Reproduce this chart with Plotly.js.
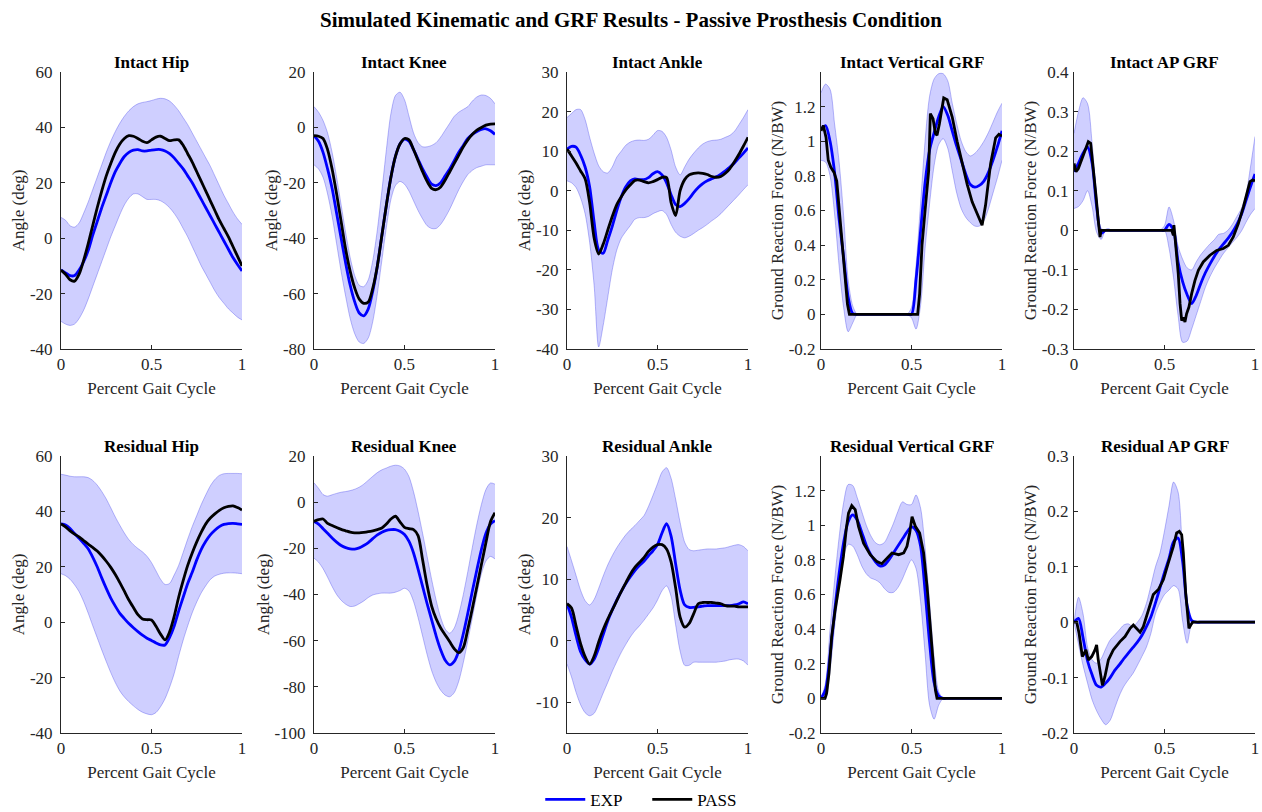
<!DOCTYPE html>
<html><head><meta charset="utf-8">
<script src="https://cdn.plot.ly/plotly-3.0.1.min.js"></script>
<style>html,body{margin:0;padding:0;background:#fff}#chart{width:1262px;height:812px}</style>
</head><body><div id="chart"></div>
<script>
// ---------- shared x grid (fraction of gait cycle) ----------
const pct = [0,0.025,0.05,0.075,0.1,0.125,0.15,0.175,0.2,0.225,0.25,0.275,0.3,0.325,0.35,0.375,0.4,0.425,0.45,0.475,0.5,0.525,0.55,0.575,0.6,0.625,0.65,0.675,0.7,0.725,0.75,0.775,0.8,0.825,0.85,0.875,0.9,0.925,0.95,0.975,1];

// ---------- tick values ----------
const xTicks = [0,0.5,1];
const ticksHip = [-40,-20,0,20,40,60];
const ticksIntKnee = [-80,-60,-40,-20,0,20];
const ticksIntAnk = [-40,-30,-20,-10,0,10,20,30];
const ticksVgrf = [-0.2,0,0.2,0.4,0.6,0.8,1,1.2];
const ticksIntAp = [-0.3,-0.2,-0.1,0,0.1,0.2,0.3,0.4];
const ticksResKnee = [-100,-80,-60,-40,-20,0,20];
const ticksResAnk = [-10,0,10,20,30];
const ticksResAp = [-0.2,-0.1,0,0.1,0.2,0.3];

// ---------- Intact Hip ----------
const intHipExp = [-11.5,-12.5,-13.5,-13.5,-11.5,-8.5,-4.5,1,6,11,15.5,20,24,27,29.5,31,31.8,32,31.5,31.5,31.8,32,32,31.5,30.5,29,27,25,22.5,20,17,14,11,8,5,2,-1,-4,-7,-9.5,-11.8];
const intHipPass = [-11.5,-13,-15,-15.5,-13,-8,-2,4.5,11,17,22.5,27,31,34,36,37,36.8,36,35,34.5,35.5,36.5,36.8,36,35.2,35.5,35.5,33.5,30.5,27.5,24,20.5,17,13.5,10,6.5,3.5,0.5,-3,-6.5,-10];
const intHipUp = [7.5,6.5,4.5,4,5.5,9,13,17.5,22,26.5,31,35,38.5,41.5,44,46,47.5,48.5,49,49.3,49.7,50.2,50.5,50.3,49.5,48,46,43.5,41,38,35,32,29,26,22.5,19,15.5,12.5,9.5,7,5];
const intHipLo = [-30,-31,-31.5,-31,-29,-26,-22,-17.5,-13,-8.5,-4,0.5,4.5,8.5,12,14.5,16,16,15,14,14,14,13.5,12.5,11,9,6.5,3.5,0.5,-3,-6.5,-10,-13,-16,-19,-21.5,-23.5,-25.5,-27,-28.5,-29.5];

// ---------- Intact Knee ----------
const intKneeExp = [-3,-5,-9,-15,-22,-31,-40,-49,-57,-63,-67,-68,-65.5,-59,-50,-39,-28,-18,-10.5,-6,-4.2,-5,-8,-11.5,-15,-18,-20.5,-21,-20,-17.5,-15,-12,-9,-6.5,-4,-2.5,-1.5,-0.7,-0.5,-1.2,-2.5];
const intKneePass = [-3,-3.2,-4,-8,-15,-24,-34,-44,-52,-58,-62,-63.5,-63,-58,-50,-39,-28,-18,-10.5,-6,-4,-4.5,-8,-12,-16,-19.5,-22,-22.5,-21.5,-19,-16,-13,-10,-7,-4.5,-2.5,-1,0,0.8,1.2,1.3];
const intKneeUp = [7.5,5.5,2.5,-2,-9,-18,-28,-38,-47,-53.5,-57,-57.5,-55,-48,-37,-23,-8,5,11.5,12.7,10,4,-2,-5.5,-7,-7,-6.5,-5.5,-3.5,-1,1.5,4,5.5,6.5,7.5,9.5,11,11.7,11.5,10.5,8.5];
const intKneeLo = [-13.5,-15,-18,-24,-32,-42,-52,-61,-69,-74.5,-77.5,-78,-76,-70,-60,-48,-36,-26,-21,-19.5,-20.5,-23,-26.5,-30,-33,-35.5,-36.5,-36.5,-35,-32.5,-29.5,-26,-22.5,-19.5,-17,-15.5,-14.5,-14,-13.5,-13.5,-13.5];

// ---------- Intact Ankle ----------
const intAnkExp = [10.5,11.2,11,9,6,1,-8,-15,-15.8,-12.5,-9,-5,-1.5,1,2.5,3,2.8,2.8,3.3,4.3,4.8,4,2,-1,-3.5,-4,-3.2,-2,-0.5,0.8,1.8,2.5,3,3.5,4.2,5,6,7,8.3,9.5,10.8];
const intAnkPass = [10.5,8.8,7,5,3,-3,-12,-16,-13.5,-10,-6.5,-3.5,-1.5,0.2,1.5,2.6,2.7,2.3,2,2.3,2.8,3.4,3.3,-3,-6.3,0,2.8,4,4.4,4.5,4.4,4.1,3.6,3.4,3.6,4.4,5.6,7.3,9.2,11.3,13.5];
const intAnkUp = [18.5,19.5,20.5,20.5,18,13.5,9.5,6.3,4.8,4.5,6,8.5,10,11.5,12.3,12.7,12.8,12.7,13,14,15.2,15,13.5,10.3,6,4,6,8,9.5,10.8,11.8,12.4,12.7,12.8,13,13.5,14,15,16.7,18.5,20.5];
const intAnkLo = [2.5,2,0.8,-1.8,-5.8,-13,-24,-39.5,-34,-27,-20,-15,-12,-10.3,-8.8,-7.2,-6.8,-6.8,-6.5,-5.8,-5.3,-5,-6,-8.5,-10.5,-11.5,-11.9,-11.5,-10.8,-10,-9.3,-8.5,-7.6,-6.8,-5.8,-4.6,-3.4,-2.2,-1,0.3,1.5];

// ---------- Intact Vertical GRF ----------
const intVgrfExp = [1.07,1.09,1.0,0.82,0.55,0.33,0.1,0.005,0,0,0,0,0,0,0,0,0,0,0,0,0,0.2,0.48,0.76,0.95,1.05,1.14,1.2,1.15,1.06,0.97,0.89,0.81,0.75,0.735,0.745,0.77,0.82,0.89,0.97,1.06];
const intVgrfUp = [1.28,1.33,1.3,1.1,0.88,0.57,0.2,0.05,0,0,0,0,0,0,0,0,0,0,0,0,0.04,0.28,0.64,1.0,1.26,1.36,1.39,1.39,1.35,1.22,1.1,1.0,0.94,0.915,0.93,0.96,1.0,1.05,1.11,1.17,1.22];
const intVgrfLo = [0.89,0.88,0.8,0.58,0.28,0.04,-0.1,-0.05,0,0,0,0,0,0,0,0,0,0,0,0,-0.02,-0.085,0.05,0.38,0.64,0.86,0.98,1.015,0.96,0.83,0.7,0.61,0.56,0.53,0.51,0.51,0.54,0.61,0.7,0.79,0.89];
const intVgrfPassX = [0,0.013,0.028,0.04,0.054,0.072,0.087,0.105,0.128,0.146,0.157,0.534,0.545,0.558,0.575,0.595,0.604,0.619,0.632,0.641,0.654,0.669,0.678,0.697,0.725,0.752,0.78,0.808,0.835,0.863,0.882,0.89,0.909,0.937,0.965,0.983,1];
const intVgrfPassY = [1.06,1.09,1.02,0.89,0.85,0.82,0.77,0.55,0.28,0.06,0,0,0.12,0.40,0.60,0.83,1.16,1.13,1.045,1.035,1.10,1.19,1.25,1.24,1.14,1.0,0.87,0.75,0.65,0.58,0.525,0.515,0.63,0.87,1.02,1.04,1.03];

// ---------- Intact AP GRF ----------
const intApExp = [0.148,0.17,0.195,0.21,0.17,0.06,-0.008,0,0,0,0,0,0,0,0,0,0,0,0,0,0,0.015,0,-0.08,-0.13,-0.163,-0.185,-0.165,-0.135,-0.108,-0.086,-0.066,-0.049,-0.035,-0.021,-0.005,0.015,0.04,0.075,0.11,0.142];
const intApUp = [0.245,0.30,0.335,0.32,0.22,0.09,0.005,0,0,0,0,0,0,0,0,0,0,0,0,0,0.012,0.059,0.025,-0.04,-0.073,-0.095,-0.1,-0.08,-0.062,-0.048,-0.035,-0.024,-0.01,-0.008,0,0.015,0.035,0.055,0.09,0.16,0.237];
const intApLo = [0.055,0.06,0.075,0.1,0.06,-0.005,-0.023,0,0,0,0,0,0,0,0,0,0,0,0,0,0,-0.045,-0.12,-0.215,-0.283,-0.28,-0.25,-0.215,-0.18,-0.145,-0.118,-0.096,-0.077,-0.059,-0.045,-0.031,-0.018,-0.002,0.02,0.04,0.055];
const intApPassX = [0,0.011,0.024,0.042,0.061,0.079,0.092,0.107,0.122,0.134,0.144,0.149,0.54,0.549,0.552,0.558,0.567,0.576,0.586,0.595,0.604,0.613,0.622,0.635,0.65,0.668,0.687,0.714,0.751,0.788,0.825,0.853,0.88,0.908,0.936,0.958,0.972,0.987,1];
const intApPassY = [0.169,0.148,0.156,0.178,0.203,0.224,0.22,0.16,0.085,0.025,-0.017,0,0,-0.013,0.013,-0.017,-0.059,-0.11,-0.186,-0.228,-0.22,-0.232,-0.211,-0.194,-0.16,-0.127,-0.101,-0.08,-0.063,-0.051,-0.046,-0.038,-0.017,0.017,0.059,0.101,0.123,0.127,0.125];

// ---------- Residual Hip ----------
const resHipExp = [35.5,35.1,33.8,32,30.3,28.5,26.5,23.5,20,16,12.2,8.7,5.8,3.2,1.3,-0.5,-2,-3.4,-4.7,-5.8,-6.6,-7.5,-8.2,-8.2,-5.5,-1.5,4,9,14,18,22.5,26.3,29.2,31.5,33.2,34.5,35.3,35.6,35.7,35.5,35.3];
const resHipPass = [35.5,34.4,33,31.8,30.8,29.5,28.2,27,25.7,24,22,19.8,17.2,14.3,11.2,8,5.3,2.7,1.2,0.9,0.8,-1.5,-4.3,-6.4,-3.5,2,9,15,20.5,25,29,32.5,35.5,37.6,39.1,40.4,41.3,41.8,42,41.4,40.5];
const resHipUp = [53.4,53.1,52.7,52.5,52.5,52.5,52.2,51.2,49.5,47.2,44.5,41.3,38,35,32.2,29.8,28,26.6,25.4,23.8,21.5,18.5,15.5,13.6,14,17,20.5,25.2,30,34.5,38.5,42.5,46,49.2,51.5,53,53.6,53.7,53.7,53.7,53.6];
const resHipLo = [17.5,16.8,15.5,13.5,11,7.5,3.3,-1.2,-5.6,-10,-14.2,-18.2,-21.8,-24.8,-27,-28.7,-30.2,-31.5,-32.5,-33.1,-33.4,-32.6,-30.5,-27.6,-23.5,-18.6,-12.3,-6.5,-1.3,3.4,7.3,10.6,13.2,15.4,16.7,17.3,17.7,17.8,17.8,17.7,17.5];

// ---------- Residual Knee ----------
const resKneeExp = [-8.3,-9.5,-11.5,-13.5,-15.5,-17.3,-18.8,-19.7,-20.2,-20.3,-19.8,-18.8,-17.5,-15.8,-14.2,-13,-12.2,-11.9,-11.9,-12.6,-14,-17,-22,-29,-36.5,-44,-51,-58,-64,-68.5,-70.5,-69,-64.5,-57,-48,-38.5,-29.3,-20.5,-13.5,-9.5,-8];
const resKneePass = [-8.3,-7.6,-7.3,-9.2,-10.1,-11,-11.8,-12.4,-13,-13.3,-13.3,-13.1,-12.8,-12.4,-11.9,-11.2,-9.5,-7.3,-6.1,-8.5,-10.9,-11.5,-11.9,-14.5,-25,-36,-45,-50.5,-54.5,-57.5,-60.5,-63.5,-65.2,-63,-55,-46,-36.5,-27,-17.5,-8.5,-4.6];
const resKneeUp = [8.4,6,3.3,2.6,3.2,3.8,4.3,4.6,5,5.6,6.5,7.8,9.5,11.2,12.8,14,14.8,15.6,16,15.7,14.3,11,4.5,-4,-13.5,-23.5,-33.5,-42.5,-50,-55,-56.8,-54.5,-48.5,-40,-30,-19.5,-9.5,-1,5.5,8.3,7.8];
const resKneeLo = [-24.2,-26,-28.8,-32.5,-36.5,-40,-42.5,-44.2,-45.2,-45,-44,-42.8,-41.3,-40.2,-39.7,-39.4,-39.4,-39.4,-39,-38.3,-37.3,-38.5,-43,-50,-58,-66,-73,-78,-81.5,-83.6,-84.3,-82.5,-77.5,-69.5,-60,-50,-40,-31,-25.5,-23.5,-24.6];

// ---------- Residual Ankle ----------
const resAnkExp = [6,3.8,0.8,-1.8,-3.1,-3.8,-3,-1.2,1,3.2,5,6.6,8,9.3,10.4,11.4,12.2,12.9,13.8,14.6,15.6,17.5,19,17,12.5,8.2,5.8,5.4,5.4,5.5,5.6,5.7,5.7,5.7,5.7,5.7,5.7,5.8,6,6.3,6];
const resAnkPass = [6,5.3,2.4,-0.5,-2.6,-3.8,-2.5,-0.2,1.8,3.5,5,6.5,8,9.4,10.8,11.9,12.7,13.5,14.5,15.2,15.6,15.6,14.9,12.8,8.6,3.8,2.2,2.8,4.4,6,6.2,6.2,6.2,6.1,6,5.7,5.6,5.6,5.5,5.5,5.5];
const resAnkUp = [15.3,13,10.6,8.2,6.5,5.8,6.7,8.5,10.5,12.3,13.8,15.1,16.2,17.2,18,18.7,19.5,20.3,21.8,23.6,25.5,27.4,28.1,26.4,23,19.2,16,14.8,14.6,14.7,14.8,14.9,14.9,14.9,15,15.1,15.3,15.5,15.6,15.3,14.6];
const resAnkLo = [-3.8,-5.9,-8.4,-10.4,-11.7,-12.2,-11.8,-10.3,-8.5,-6.8,-5,-3.4,-1.9,-0.6,0.6,1.6,2.4,3.3,4.3,5.3,6.6,8.1,8.9,7.2,2.6,-1.7,-4,-4,-3.5,-3.5,-3.5,-3.5,-3.5,-3.5,-3.4,-3.3,-3.1,-3,-3,-3.3,-4];

// ---------- Residual Vertical GRF ----------
const resVgrfExp = [0,0.05,0.25,0.5,0.72,0.9,1.02,1.06,1.03,0.96,0.885,0.83,0.79,0.765,0.77,0.8,0.84,0.88,0.92,0.96,0.99,0.97,0.88,0.62,0.32,0.09,0.015,0,0,0,0,0,0,0,0,0,0,0,0,0,0];
const resVgrfUp = [0,0.09,0.4,0.68,0.93,1.13,1.235,1.23,1.16,1.08,1.0,0.94,0.9,0.887,0.9,0.95,1.01,1.08,1.135,1.12,1.12,1.175,1.1,0.87,0.55,0.24,0.04,0,0,0,0,0,0,0,0,0,0,0,0,0,0];
const resVgrfLo = [0,-0.005,0.16,0.41,0.64,0.82,0.89,0.88,0.83,0.765,0.72,0.695,0.685,0.668,0.635,0.612,0.612,0.64,0.69,0.752,0.8,0.75,0.56,0.26,-0.04,-0.12,-0.04,0,0,0,0,0,0,0,0,0,0,0,0,0,0];
const resVgrfPassX = [0,0.022,0.031,0.044,0.059,0.078,0.105,0.124,0.139,0.152,0.17,0.189,0.207,0.235,0.272,0.309,0.336,0.364,0.392,0.429,0.457,0.475,0.49,0.503,0.521,0.545,0.567,0.586,0.604,0.619,0.632,0.641,1];
const resVgrfPassY = [0,0,0.03,0.145,0.357,0.51,0.685,0.82,0.974,1.07,1.113,1.09,0.994,0.897,0.83,0.79,0.778,0.81,0.84,0.83,0.84,0.878,0.955,1.05,0.994,0.955,0.84,0.646,0.415,0.22,0.048,0,0];

// ---------- Residual AP GRF ----------
const resApExp = [0,0.007,-0.028,-0.07,-0.095,-0.114,-0.117,-0.11,-0.1,-0.087,-0.077,-0.066,-0.056,-0.046,-0.036,-0.024,-0.008,0.01,0.035,0.062,0.09,0.115,0.145,0.152,0.11,0.03,0.003,0,0,0,0,0,0,0,0,0,0,0,0,0,0];
const resApUp = [0,0.045,0.015,-0.045,-0.068,-0.074,-0.066,-0.048,-0.032,-0.023,-0.014,-0.005,-0.003,-0.008,0,0.012,0.034,0.066,0.1,0.125,0.165,0.21,0.253,0.235,0.125,0.025,0.002,0,0,0,0,0,0,0,0,0,0,0,0,0,0];
const resApLo = [0,-0.04,-0.078,-0.11,-0.14,-0.16,-0.175,-0.185,-0.177,-0.155,-0.133,-0.116,-0.104,-0.093,-0.078,-0.062,-0.045,-0.02,0.015,0.035,0.05,0.058,0.066,0.06,0.002,-0.038,-0.004,0,0,0,0,0,0,0,0,0,0,0,0,0,0];
const resApPassX = [0,0.015,0.028,0.039,0.046,0.057,0.066,0.079,0.098,0.116,0.125,0.134,0.147,0.157,0.171,0.19,0.217,0.254,0.282,0.31,0.328,0.346,0.365,0.383,0.41,0.438,0.466,0.494,0.521,0.549,0.567,0.582,0.595,0.604,0.617,0.628,0.635,0.645,0.656,1];
const resApPassY = [0,0,-0.02,-0.044,-0.062,-0.056,-0.05,-0.068,-0.062,-0.05,-0.041,-0.068,-0.098,-0.114,-0.098,-0.068,-0.05,-0.035,-0.026,-0.011,-0.005,-0.011,-0.018,-0.008,0.022,0.05,0.059,0.077,0.107,0.137,0.161,0.164,0.158,0.125,0.053,0.004,-0.011,-0.005,0,0];

// ---------- panel definitions ----------
const ANG = 'Angle (deg)', GRF = 'Ground Reaction Force (N/BW)';
const panels = [
  {title:'Intact Hip', ytitle:ANG, range:[-40,60], ticks:ticksHip, up:intHipUp, lo:intHipLo, exp:intHipExp, px:pct, py:intHipPass, pshape:'spline'},
  {title:'Intact Knee', ytitle:ANG, range:[-80,20], ticks:ticksIntKnee, up:intKneeUp, lo:intKneeLo, exp:intKneeExp, px:pct, py:intKneePass, pshape:'spline'},
  {title:'Intact Ankle', ytitle:ANG, range:[-40,30], ticks:ticksIntAnk, up:intAnkUp, lo:intAnkLo, exp:intAnkExp, px:pct, py:intAnkPass, pshape:'spline'},
  {title:'Intact Vertical GRF', ytitle:GRF, range:[-0.2,1.4], ticks:ticksVgrf, up:intVgrfUp, lo:intVgrfLo, exp:intVgrfExp, px:intVgrfPassX, py:intVgrfPassY, pshape:'linear'},
  {title:'Intact AP GRF', ytitle:GRF, range:[-0.3,0.4], ticks:ticksIntAp, up:intApUp, lo:intApLo, exp:intApExp, px:intApPassX, py:intApPassY, pshape:'linear'},
  {title:'Residual Hip', ytitle:ANG, range:[-40,60], ticks:ticksHip, up:resHipUp, lo:resHipLo, exp:resHipExp, px:pct, py:resHipPass, pshape:'spline'},
  {title:'Residual Knee', ytitle:ANG, range:[-100,20], ticks:ticksResKnee, up:resKneeUp, lo:resKneeLo, exp:resKneeExp, px:pct, py:resKneePass, pshape:'spline'},
  {title:'Residual Ankle', ytitle:ANG, range:[-15,30], ticks:ticksResAnk, up:resAnkUp, lo:resAnkLo, exp:resAnkExp, px:pct, py:resAnkPass, pshape:'spline'},
  {title:'Residual Vertical GRF', ytitle:GRF, range:[-0.2,1.4], ticks:ticksVgrf, up:resVgrfUp, lo:resVgrfLo, exp:resVgrfExp, px:resVgrfPassX, py:resVgrfPassY, pshape:'linear'},
  {title:'Residual AP GRF', ytitle:GRF, range:[-0.2,0.3], ticks:ticksResAp, up:resApUp, lo:resApLo, exp:resApExp, px:resApPassX, py:resApPassY, pshape:'linear'}
];

const FONT = '"Liberation Serif", "Times New Roman", serif';
const AXC = '#262626';
const FS = 17;
const colX = [[0,0.15159],[0.21189,0.36348],[0.42379,0.57538],[0.63652,0.78811],[0.84841,1]];
const rowY = [[0.58094,1],[0,0.41906]];

const traces = [];
const layout = {
  width:1262, height:812, autosize:false,
  margin:{l:61, r:7, t:72, b:79, pad:0, autoexpand:false},
  paper_bgcolor:'#fff', plot_bgcolor:'#fff',
  font:{family:FONT, size:FS, color:AXC},
  title:{text:'Simulated Kinematic and GRF Results - Passive Prosthesis Condition',
         font:{family:FONT, size:21, color:'#000', weight:'bold'},
         x:0.5, xref:'container', xanchor:'center', y:1-20/812, yref:'container', yanchor:'middle'},
  showlegend:true,
  legend:{orientation:'h', x:0.491, xanchor:'center', y:-0.101, yanchor:'middle',
          font:{family:FONT, size:FS, color:'#000'}, bgcolor:'rgba(0,0,0,0)',
          itemwidth:40, entrywidth:52, entrywidthmode:'pixels'},
  annotations:[]
};

panels.forEach((p,i)=>{
  const n = i+1, row = Math.floor(i/5), col = i%5;
  const sfx = n===1 ? '' : String(n);
  const xa = 'x'+sfx, ya = 'y'+sfx;
  const isGrf = p.ytitle === GRF;
  const bandLine = {color:'rgba(40,40,230,0.45)', width:0.7, shape:'spline', smoothing:0.8};
  traces.push({x:pct, y:p.up, xaxis:xa, yaxis:ya, type:'scatter', mode:'lines', line:bandLine, showlegend:false, hoverinfo:'skip'});
  traces.push({x:pct, y:p.lo, xaxis:xa, yaxis:ya, type:'scatter', mode:'lines', line:bandLine, fill:'tonexty', fillcolor:'rgba(0,0,255,0.19)', showlegend:false, hoverinfo:'skip'});
  traces.push({x:pct, y:p.exp, xaxis:xa, yaxis:ya, type:'scatter', mode:'lines', name:'EXP', legendgroup:'EXP', showlegend:i===0,
               line:{color:'#0000ff', width:2.8, shape:'spline', smoothing:0.8}});
  traces.push({x:p.px, y:p.py, xaxis:xa, yaxis:ya, type:'scatter', mode:'lines', name:'PASS', legendgroup:'PASS', showlegend:i===0,
               line:{color:'#000000', width:2.8, shape:p.pshape, smoothing:0.8}});

  layout['xaxis'+sfx] = {
    domain:colX[col], anchor:ya, range:[0,1], fixedrange:true,
    tickmode:'array', tickvals:xTicks, ticktext:xTicks.map(v=>String(v)),
    ticks:'inside', ticklen:4, tickcolor:AXC, tickwidth:1,
    showline:true, linecolor:AXC, linewidth:1, mirror:false,
    showgrid:false, zeroline:false, ticklabelstandoff:0,
    tickfont:{family:FONT, size:FS, color:AXC},
    title:{text:'Percent Gait Cycle', font:{family:FONT, size:FS, color:AXC}, standoff:8}
  };
  layout['yaxis'+sfx] = {
    domain:rowY[row], anchor:xa, range:p.range, fixedrange:true,
    tickmode:'array', tickvals:p.ticks, ticktext:p.ticks.map(v=>String(v)),
    ticks:'inside', ticklen:4, tickcolor:AXC, tickwidth:1,
    showline:true, linecolor:AXC, linewidth:1, mirror:false,
    showgrid:false, zeroline:false, ticklabelstandoff:isGrf ? 1 : 4,
    tickfont:{family:FONT, size:FS, color:AXC},
    title:{text:p.ytitle, font:{family:FONT, size:FS, color:AXC}, standoff:0}
  };
  layout.annotations.push({
    text:'<b>'+p.title+'</b>', xref:'paper', yref:'paper',
    x:(colX[col][0]+colX[col][1])/2, y:rowY[row][1], xanchor:'center', yanchor:'bottom',
    yshift:-2, showarrow:false, font:{family:FONT, size:FS, color:'#000'}
  });
});

Plotly.newPlot('chart', traces, layout, {displayModeBar:false, staticPlot:true});
</script>
</body></html>
